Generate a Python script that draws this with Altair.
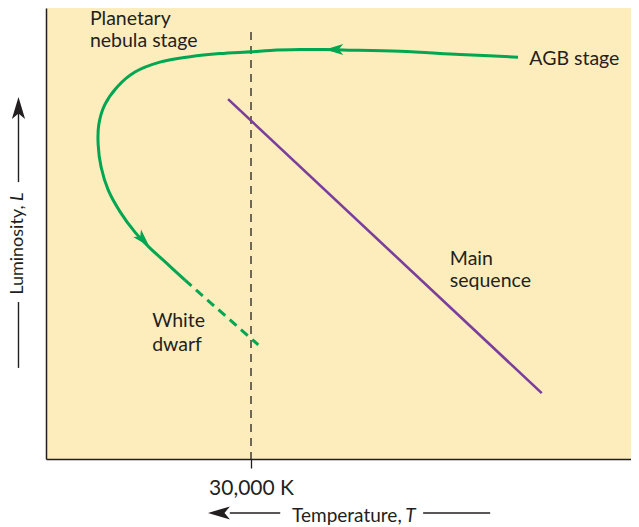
import altair as alt
import pandas as pd

# ---- data (temperature index left->right, luminosity index 0-100 bottom->top)
track_x = [79.6, 69.8, 59.7, 50.1, 47.0, 42.8, 37.8, 34.6, 29.3, 24.3, 19.2, 15.0,
           12.0, 9.9, 8.9, 8.8, 9.3, 10.5, 12.5, 15.0, 17.5, 20.1, 23.4]
track_y = [89.1, 89.7, 90.4, 90.7, 90.8, 90.8, 90.6, 90.3, 89.9, 89.2, 88.0, 85.8,
           82.5, 78.5, 74.1, 69.6, 64.7, 59.6, 54.8, 50.3, 46.8, 43.7, 39.7]
wd_x = [23.4, 35.8]
wd_y = [39.7, 25.3]
ms_x = [30.7, 83.6]
ms_y = [79.8, 14.6]
t30k = 34.57
dash_top = 94.7

arrow_x = [48.6, 16.4]
arrow_y = [90.8, 48.6]
arrow_angle = [180, 47]

lab_text = ["Planetary", "nebula stage", "AGB stage", "Main", "sequence", "White", "dwarf"]
lab_x = [7.4, 7.4, 81.5, 68.1, 68.1, 17.9, 17.9]
lab_y = [96.2, 91.35, 87.4, 43.0, 38.2, 29.3, 23.9]

# axis-title decorations (in data units, outside the plotting domain)
xt_text = ["Temperature,", "T"]
xt_style = ["normal", "italic"]
xt_x = [41.5, 60.6]
xt_y = -13.97
xarrow_y = -11.97
xline_left = [31.0, 39.5]
xline_right = [63.6, 74.9]
xhead_x = 29.17

yt_text = ["Luminosity,", "L"]
yt_style = ["normal", "italic"]
yt_y = [36.4, 57.2]
yt_x = -4.64
yline_up = [61.4, 77.0]
yline_low = [20.2, 34.8]
yhead_y = 77.8

INK = "#231F20"
GREEN = "#00A651"
PURPLE = "#7A3E9D"
FONT = "Lato"
FS = 19.5
FS_X = 19
FS_Y = 18
ARROW = "M1,0L-1,-0.6L-0.5,0L-1,0.6Z"

xs = alt.Scale(domain=[0, 98.65], nice=False, zero=False)
ys = alt.Scale(domain=[0, 100], nice=False, zero=False)
x_axis = alt.Axis(values=[t30k], labelExpr="'30,000 K'", grid=False, title=None,
                  tickSize=9, tickColor=INK, tickWidth=1.3, domainColor=INK,
                  domainWidth=1.5, labelFont=FONT, labelFontSize=21, labelColor=INK,
                  labelPadding=9)
y_axis = alt.Axis(grid=False, ticks=False, labels=False, title=None,
                  domainColor=INK, domainWidth=1.5)


def X(f="x"):
    return alt.X(f"{f}:Q", scale=xs, axis=x_axis)


def Y(f="y"):
    return alt.Y(f"{f}:Q", scale=ys, axis=y_axis)


df_track = pd.DataFrame({"x": track_x, "y": track_y, "i": range(len(track_x))})
df_wd = pd.DataFrame({"x": wd_x, "y": wd_y, "i": range(len(wd_x))})
df_ms = pd.DataFrame({"x": ms_x, "y": ms_y, "i": range(len(ms_x))})
df_vline = pd.DataFrame({"x": [t30k], "y": [dash_top], "y2": [0]})
df_arrows = pd.DataFrame({"x": arrow_x, "y": arrow_y, "a": arrow_angle})
df_lab = pd.DataFrame({"x": lab_x, "y": lab_y, "t": lab_text})

vline = alt.Chart(df_vline).mark_rule(color=INK, strokeWidth=1.3, strokeDash=[8, 6]).encode(
    x=X(), y=Y(), y2="y2:Q")
ms = alt.Chart(df_ms).mark_line(color=PURPLE, strokeWidth=2.6).encode(
    x=X(), y=Y(), order="i:Q")
track = alt.Chart(df_track).mark_line(color=GREEN, strokeWidth=3,
                                      interpolate="catmull-rom").encode(
    x=X(), y=Y(), order="i:Q")
wd = alt.Chart(df_wd).mark_line(color=GREEN, strokeWidth=3, strokeDash=[9, 6]).encode(
    x=X(), y=Y(), order="i:Q")
heads = alt.Chart(df_arrows).mark_point(shape=ARROW, filled=True, color=GREEN, opacity=1,
                                         size=324, strokeWidth=0).encode(
    x=X(), y=Y(), angle=alt.Angle("a:Q", scale=None))
labels = alt.Chart(df_lab).mark_text(align="left", baseline="alphabetic", font=FONT,
                                      fontSize=FS, color=INK).encode(
    x=X(), y=Y(), text="t:N")

# x-axis title pieces
df_xt = pd.DataFrame({"x": xt_x, "y": [xt_y] * 2, "t": xt_text, "s": xt_style})
xt_n = alt.Chart(df_xt[df_xt.s == "normal"]).mark_text(
    align="left", baseline="alphabetic", font=FONT, fontSize=FS_X, color=INK).encode(
    x=X(), y=Y(), text="t:N")
xt_i = alt.Chart(df_xt[df_xt.s == "italic"]).mark_text(
    align="left", baseline="alphabetic", font=FONT, fontSize=FS_X, color=INK,
    fontStyle="italic").encode(x=X(), y=Y(), text="t:N")
df_xl = pd.DataFrame({"x": [xline_left[0], xline_right[0]], "x2": [xline_left[1], xline_right[1]],
                      "y": [xarrow_y] * 2})
xl = alt.Chart(df_xl).mark_rule(color=INK, strokeWidth=1.4).encode(x=X(), x2="x2:Q", y=Y())
df_xh = pd.DataFrame({"x": [xhead_x], "y": [xarrow_y], "a": [180]})
xh = alt.Chart(df_xh).mark_point(shape=ARROW, filled=True, color=INK, opacity=1, size=484,
                                  strokeWidth=0).encode(
    x=X(), y=Y(), angle=alt.Angle("a:Q", scale=None))

# y-axis title pieces
df_yt = pd.DataFrame({"x": [yt_x] * 2, "y": yt_y, "t": yt_text, "s": yt_style})
yt_n = alt.Chart(df_yt[df_yt.s == "normal"]).mark_text(
    align="left", baseline="middle", angle=270, font=FONT, fontSize=FS_Y, color=INK).encode(
    x=X(), y=Y(), text="t:N")
yt_i = alt.Chart(df_yt[df_yt.s == "italic"]).mark_text(
    align="left", baseline="middle", angle=270, font=FONT, fontSize=FS_Y, color=INK,
    fontStyle="italic").encode(x=X(), y=Y(), text="t:N")
df_yl = pd.DataFrame({"x": [yt_x] * 2, "y": [yline_up[0], yline_low[0]],
                      "y2": [yline_up[1], yline_low[1]]})
yl = alt.Chart(df_yl).mark_rule(color=INK, strokeWidth=1.4).encode(x=X(), y=Y(), y2="y2:Q")
df_yh = pd.DataFrame({"x": [yt_x], "y": [yhead_y], "a": [270]})
yh = alt.Chart(df_yh).mark_point(shape=ARROW, filled=True, color=INK, opacity=1, size=484,
                                  strokeWidth=0).encode(
    x=X(), y=Y(), angle=alt.Angle("a:Q", scale=None))

chart = alt.layer(vline, ms, track, wd, heads, labels, xt_n, xt_i, xl, xh,
                  yt_n, yt_i, yl, yh).properties(
    width=585, height=451,
    autosize=alt.AutoSizeParams(type="none"),
    padding={"left": 38, "top": 0, "right": 0, "bottom": 66},
    background="white",
).configure_view(fill="#FDEDBC", strokeWidth=0)

chart.save("out.html", embed_options={"renderer": "svg", "actions": False})
